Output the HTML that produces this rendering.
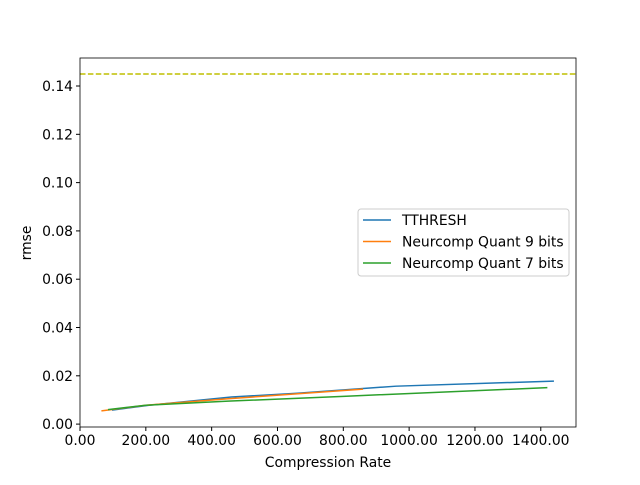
<!DOCTYPE html>
<html><head><meta charset="utf-8"><style>body{margin:0;background:#fff}svg{font-family:"DejaVu Sans","Liberation Sans",sans-serif}</style></head>
<body>
<svg id="c" width="640" height="480"></svg>
<script>
const xTicks=[0,200,400,600,800,1000,1200,1400];
const yTicks=[0,0.02,0.04,0.06,0.08,0.10,0.12,0.14];
const tthreshX=[97,210,460,660,960,1440];
const tthreshY=[0.0058,0.0078,0.0112,0.0128,0.0157,0.0178];
const q9X=[65,200,450,860];
const q9Y=[0.0055,0.0078,0.0105,0.0145];
const q7X=[85,200,450,800,1420];
const q7Y=[0.006,0.0078,0.0095,0.0115,0.0151];
const baseline=0.145;
const L=80,R=576,T=58,B=427,xmin=0,xmax=1507,ymin=-0.0012,ymax=0.1516;
const sx=v=>L+(v-xmin)/(xmax-xmin)*(R-L);
const sy=v=>B-(v-ymin)/(ymax-ymin)*(B-T);
const svg=document.getElementById('c');const NS='http://www.w3.org/2000/svg';
function mk(t,a,p){const e=document.createElementNS(NS,t);for(const k in a)e.setAttribute(k,a[k]);(p||svg).appendChild(e);return e;}
let e;
xTicks.forEach(v=>{mk('line',{x1:sx(v),x2:sx(v),y1:B,y2:B+4,stroke:'#000'});e=mk('text',{x:sx(v),y:B+18,'text-anchor':'middle','font-size':13.9});e.textContent=v.toFixed(2);

});
yTicks.forEach(v=>{mk('line',{x1:L-4,x2:L,y1:sy(v),y2:sy(v),stroke:'#000'});e=mk('text',{x:L-7,y:sy(v)+5,'text-anchor':'end','font-size':13.9});e.textContent=v.toFixed(2);

});
e=mk('line',{x1:L,x2:R,y1:sy(baseline),y2:sy(baseline),stroke:'#bfbf00','stroke-width':1.5,'stroke-dasharray':'5.5,2.4'});


function series(xs,ys,c,n){e=mk('polyline',{points:xs.map((x,i)=>sx(x)+','+sy(ys[i])).join(' '),fill:'none',stroke:c,'stroke-width':1.5});

}
series(tthreshX,tthreshY,'#1f77b4','tthresh-line');
series(q9X,q9Y,'#ff7f0e','quant9-line');
series(q7X,q7Y,'#2ca02c','quant7-line');
mk('rect',{x:L,y:T,width:R-L,height:B-T,fill:'none',stroke:'#000','stroke-width':0.8});
e=mk('text',{x:(L+R)/2,y:467,'text-anchor':'middle','font-size':13.9});e.textContent='Compression Rate';


e=mk('text',{x:31,y:243,'text-anchor':'middle','font-size':13.9,transform:'rotate(-90 31 243)'});e.textContent='rmse';


const g=mk('g',{});


mk('rect',{x:358,y:209,width:211,height:67,rx:3,fill:'#fff',stroke:'#ccc'},g);
[['TTHRESH','#1f77b4'],['Neurcomp Quant 9 bits','#ff7f0e'],['Neurcomp Quant 7 bits','#2ca02c']].forEach((d,i)=>{const y=220+i*21.5;
mk('line',{x1:363,x2:391,y1:y,y2:y,stroke:d[1],'stroke-width':1.5},g);
e=mk('text',{x:402,y:y+5,'font-size':13.9},g);e.textContent=d[0];

});
</script>
</body></html>
